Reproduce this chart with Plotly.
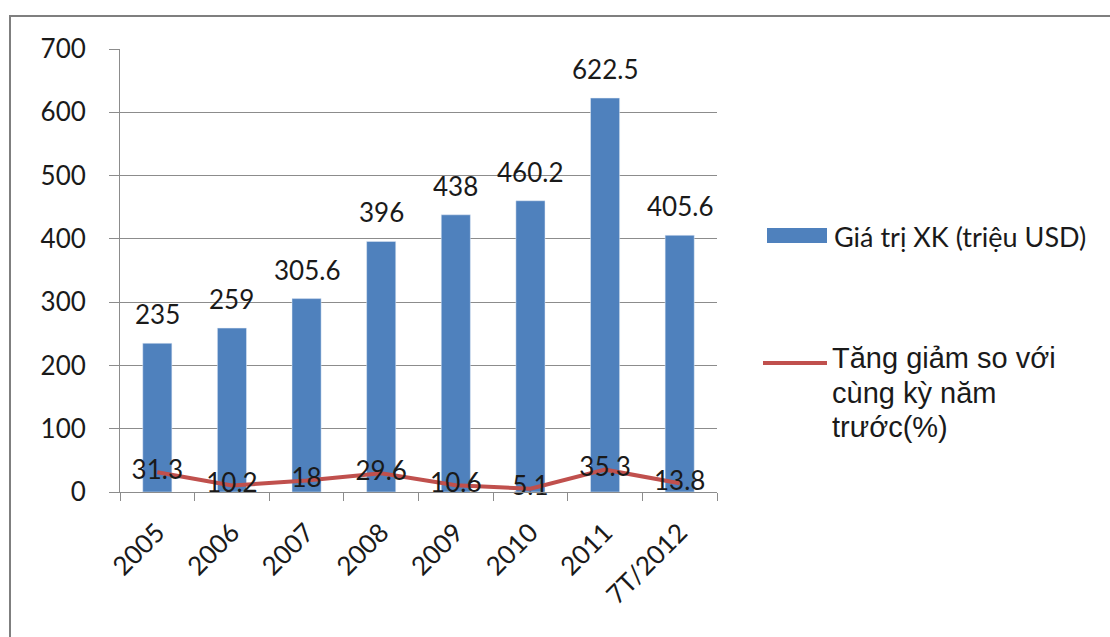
import plotly.graph_objects as go

categories = ["2005", "2006", "2007", "2008", "2009", "2010", "2011", "7T/2012"]
export_value = [235, 259, 305.6, 396, 438, 460.2, 622.5, 405.6]
growth_pct = [31.3, 10.2, 18, 29.6, 10.6, 5.1, 35.3, 13.8]
bar_name = "Giá trị XK (triệu USD)"
line_name_lines = ["Tăng giảm so với", "cùng kỳ năm", "trước(%)"]

BLUE = "#4F81BD"
RED = "#C0504D"
GRID = "#8C8C8C"
TXT = "#1a1a1a"
FONT = "Lato"

W, H = 1110, 637
L, R, T, B = 120, 1110 - 717, 49, 637 - 492
pw, ph = W - L - R, H - T - B

def px(x):
    return (x - L) / pw

def py(y):
    return (H - B - y) / ph

idx = list(range(len(categories)))

fig = go.Figure()
fig.add_trace(go.Bar(
    x=idx, y=export_value, name=bar_name, marker_color=BLUE,
    width=0.39, hoverinfo="skip", showlegend=False,
))
fig.add_trace(go.Scatter(
    x=idx, y=growth_pct, name=" ".join(line_name_lines),
    mode="lines+text", line=dict(color=RED, width=4),
    text=[f"{v:g}" for v in growth_pct], textposition="middle center",
    textfont=dict(family=FONT, size=26, color=TXT),
    hoverinfo="skip", showlegend=False, cliponaxis=False,
))

annotations = []
for i, v in zip(idx, export_value):
    annotations.append(dict(
        x=i, y=v, xref="x", yref="y", text=f"{v:g}", showarrow=False,
        yshift=29, yanchor="middle", xanchor="center",
        font=dict(family=FONT, size=26, color=TXT),
    ))

# legend (manual, to match layout)
annotations.append(dict(
    x=px(832), y=py(236), xref="paper", yref="paper", text=bar_name,
    showarrow=False, xanchor="left", yanchor="middle",
    font=dict(family=FONT, size=27, color=TXT),
))
for k, (txt, yc) in enumerate(zip(line_name_lines, [358, 393, 427])):
    annotations.append(dict(
        x=px(830), y=py(yc), xref="paper", yref="paper", text=txt,
        showarrow=False, xanchor="left", yanchor="middle", align="left",
        font=dict(family="Liberation Sans", size=29, color=TXT),
    ))

shapes = [
    dict(type="rect", xref="paper", yref="paper",
         x0=px(10), x1=px(1130), y0=py(660), y1=py(16),
         line=dict(color="#7f7f7f", width=2), layer="below"),
    dict(type="rect", xref="paper", yref="paper",
         x0=px(767), x1=px(827), y0=py(243), y1=py(228),
         fillcolor=BLUE, line=dict(width=0)),
    dict(type="line", xref="paper", yref="paper",
         x0=px(763), x1=px(827), y0=py(363), y1=py(363),
         line=dict(color=RED, width=4)),
]

fig.update_layout(
    width=W, height=H,
    margin=dict(l=L, r=R, t=T, b=B, pad=0),
    paper_bgcolor="white", plot_bgcolor="white",
    annotations=annotations, shapes=shapes,
    font=dict(family=FONT, size=26, color=TXT),
)
fig.update_xaxes(
    range=[-0.5, 7.5], tickmode="array", tickvals=idx, ticktext=categories,
    showline=True, linecolor=GRID, linewidth=1,
    ticks="", showgrid=False, zeroline=False,
    tickangle=-45, tickfont=dict(family=FONT, size=26, color=TXT),
    ticklabelstandoff=14,
    minor=dict(tickmode="array", tickvals=[i - 0.5 for i in range(len(categories) + 1)],
               ticks="outside", ticklen=8, tickcolor=GRID, showgrid=False),
)
fig.update_yaxes(
    range=[0, 700], dtick=100,
    showline=True, linecolor=GRID, linewidth=1,
    ticks="outside", ticklen=10, tickcolor=GRID,
    showgrid=True, gridcolor=GRID, gridwidth=1,
    tickfont=dict(family=FONT, size=26, color=TXT),
    ticklabelstandoff=18, zeroline=False,
)

fig.write_html("out.html")
